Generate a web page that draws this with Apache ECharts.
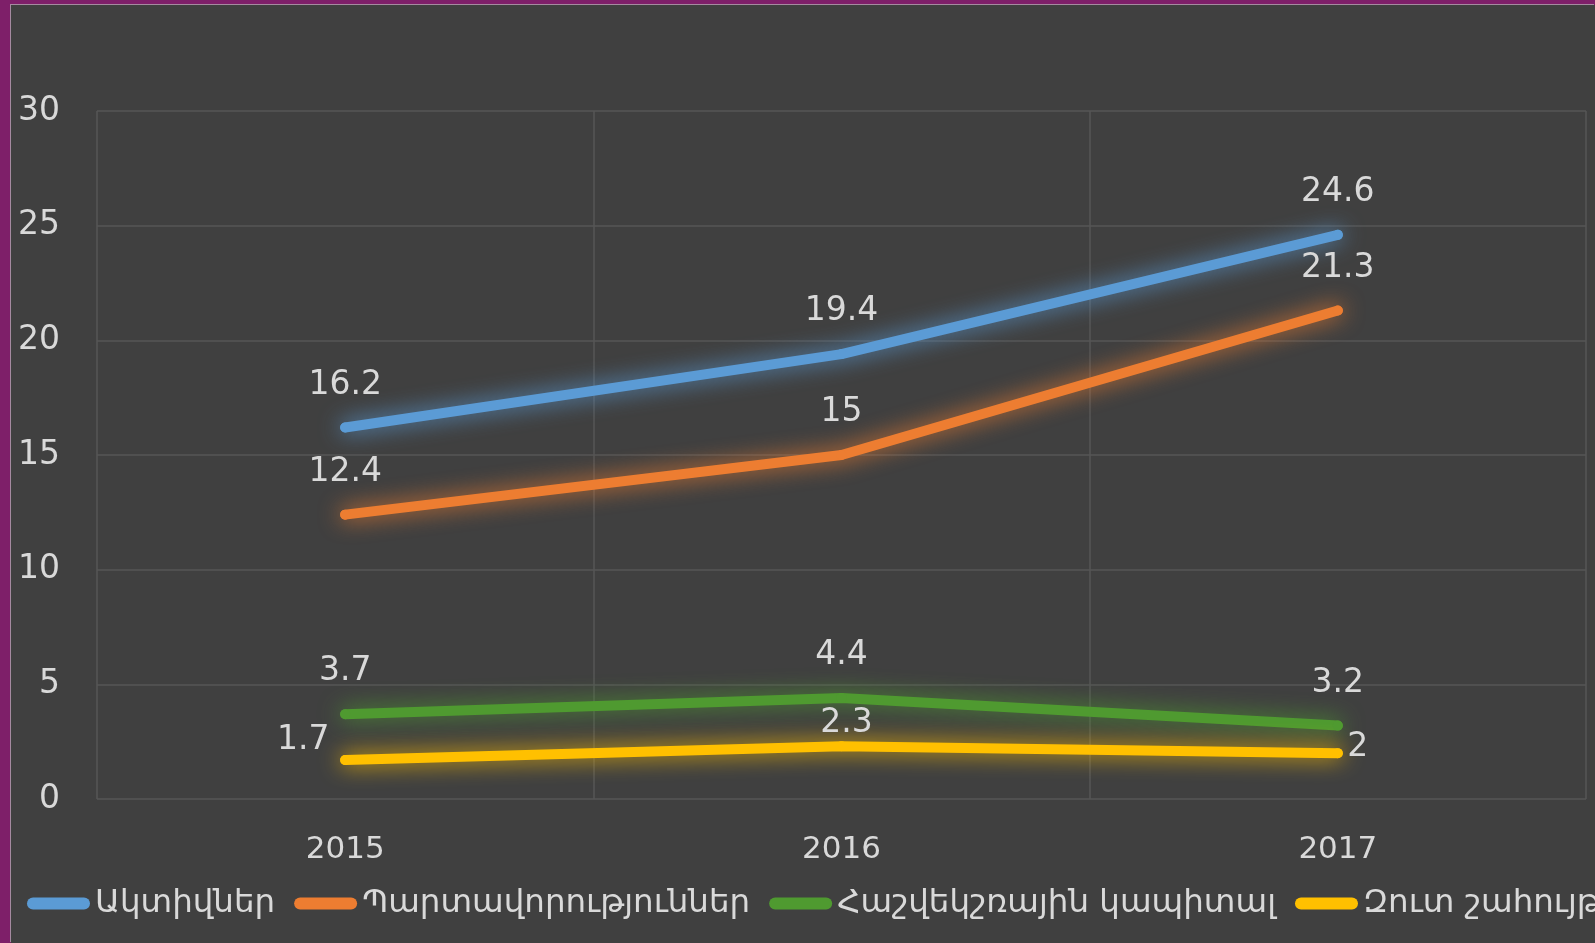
<!DOCTYPE html>
<html>
<head>
<meta charset="utf-8">
<script src="https://cdn.jsdelivr.net/npm/echarts@6/dist/echarts.min.js"></script>
<style>
  html, body { margin: 0; padding: 0; width: 1595px; height: 943px; overflow: hidden; background: #7E1F69; }
  #chart { position: absolute; left: 11px; top: 5px; width: 1584px; height: 938px; background: #404040; box-shadow: -1px -1px 0 #a58aa0; }
</style>
</head>
<body>
<div id="chart"></div>
<script>
const years = ['2015', '2016', '2017'];
const seriesNames = ['Ակտիվներ', 'Պարտավորություններ', 'Հաշվեկշռային կապիտալ', 'Զուտ շահույթ'];
const assets = [16.2, 19.4, 24.6];
const liabilities = [12.4, 15, 21.3];
const equity = [3.7, 4.4, 3.2];
const netProfit = [1.7, 2.3, 2];
const yTicks = [0, 30, 5]; // min, max, interval

const colors = ['#5B9BD5', '#ED7D31', '#4F9A30', '#FFC000'];
const textColor = '#D9D9D9';
const font = 'DejaVu Sans';

const chart = echarts.init(document.getElementById('chart'));

function makeSeries(name, values, color, offsets) {
  return {
    name: name,
    type: 'line',
    data: values.map((v, i) => {
      const item = { value: v };
      if (offsets && offsets[i]) item.label = { offset: offsets[i] };
      return item;
    }),
    symbol: 'circle',
    symbolSize: 10,
    lineStyle: { width: 10, color: color, cap: 'round', join: 'round', shadowColor: color, shadowBlur: 22 },
    itemStyle: { color: color },
    label: {
      show: true, position: 'top', distance: 21,
      color: textColor, fontSize: 33, fontFamily: font
    },
    emphasis: { disabled: true },
    animation: false
  };
}

const pill = 'path://M6,0 H57 A6,6 0 0 1 57,12 H6 A6,6 0 0 1 6,0 Z';

chart.setOption({
  backgroundColor: '#404040',
  grid: { left: 86, top: 106, right: 9, bottom: 144, containLabel: false },
  xAxis: {
    type: 'category',
    data: years,
    boundaryGap: true,
    axisLine: { show: false },
    axisTick: { show: false },
    axisLabel: { color: textColor, fontSize: 31, fontFamily: font, margin: 35 },
    splitLine: { show: true, lineStyle: { color: '#565656', width: 1.5 } }
  },
  yAxis: {
    type: 'value',
    min: yTicks[0], max: yTicks[1], interval: yTicks[2],
    axisLine: { show: false },
    axisTick: { show: false },
    axisLabel: { color: textColor, fontSize: 33, fontFamily: font, margin: 37 },
    splitLine: { show: true, lineStyle: { color: '#565656', width: 1.5 } }
  },
  legend: {
    type: 'plain',
    left: 11, top: 877, width: 3000,
    itemWidth: 63, itemHeight: 12, itemGap: 19,
    icon: pill,
    textStyle: { color: textColor, fontSize: 32.5, fontFamily: font },
    data: seriesNames.map((n, i) => ({ name: n, itemStyle: { color: colors[i] } })),
    selectedMode: false
  },
  series: [
    makeSeries(seriesNames[0], assets, colors[0]),
    makeSeries(seriesNames[1], liabilities, colors[1]),
    makeSeries(seriesNames[2], equity, colors[2]),
    makeSeries(seriesNames[3], netProfit, colors[3], [[-42, 23], [5, 20], [20, 37]])
  ]
});
</script>
</body>
</html>
